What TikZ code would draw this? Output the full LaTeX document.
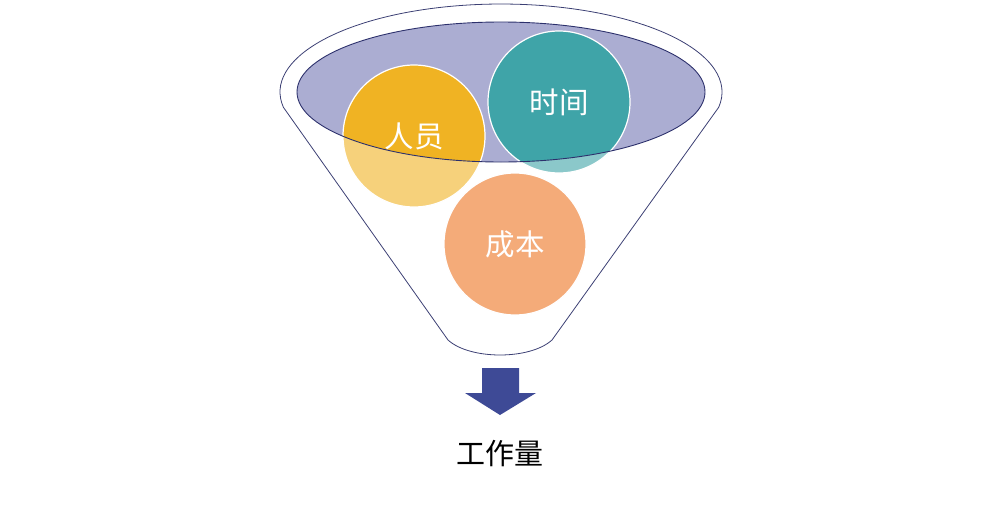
\documentclass[tikz,border=0pt]{standalone}
\usepackage{fontspec}
\newfontfamily\cjk{Noto Sans CJK SC}
\usetikzlibrary{positioning}
\definecolor{rim}{HTML}{3C4074}
\definecolor{mouthline}{HTML}{2C306C}
\definecolor{mouth}{HTML}{ABADD2}
\definecolor{gold}{HTML}{F0B323}
\definecolor{teal}{HTML}{3FA4A8}
\definecolor{salmon}{HTML}{ED7321}
\definecolor{push}{HTML}{3E4A96}
\tikzset{
  % A ball dropped into the funnel
  ball/.style={
    circle, fill=#1, draw=white, line width=1.2pt, inner sep=0pt,
    minimum size=142pt, text=white, font=\cjk\fontsize{29.5}{30}\selectfont},
  % The funnel glass, laid over the balls
  glass/.style={fill=white, fill opacity=0.4, even odd rule},
  rimline/.style={draw=rim, line width=0.8pt},
  mouthrim/.style={draw=mouthline, line width=0.9pt},
  result/.style={text=black, font=\cjk\fontsize{29}{30}\selectfont},
}
% outline of the funnel body
\newcommand{\funnelpath}{(448,-340) -- (283.4,-107.3)
  arc[start angle=190, end angle=-10, x radius=221, y radius=88]
  -- (552,-340) .. controls (530,-360) and (470,-360) .. (448,-340)}

\begin{document}
\begin{tikzpicture}[x=1pt, y=1pt]
  \useasboundingbox (0,0) rectangle (999,-504);

  % the opening
  \fill[mouth] (501,-92) ellipse[x radius=204, y radius=70];

  \node[ball=gold] (people) at (414,-136) {人员};
  \node[ball=teal] (hours) at (559,-102) {时间};
  \node[ball=salmon] (budget) at (515,-244) {成本};

  % glass over the balls, open at the mouth
  \fill[glass] \funnelpath (501,-92) ellipse[x radius=204, y radius=70];
  \draw[mouthrim] (501,-92) ellipse[x radius=204, y radius=70];
  \draw[rimline] \funnelpath;

  % down arrow and result
  \fill[push] (482,-368) -- (519,-368) -- (519,-393) -- (536,-393)
    -- (500,-415) -- (465,-393) -- (482,-393) -- cycle;
  \node[result] (load) at (500,-454) {工作量};

\end{tikzpicture}
\end{document}
